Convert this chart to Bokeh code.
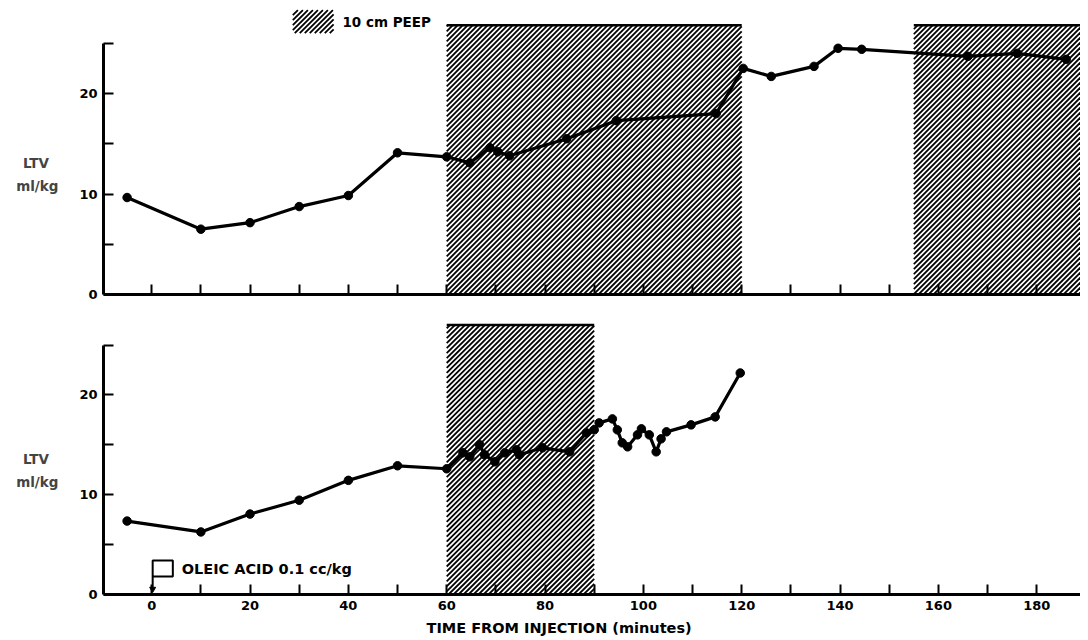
from bokeh.plotting import figure
from bokeh.models import FixedTicker, Range1d, Title
from bokeh.layouts import column
from bokeh.embed import file_html
from bokeh.resources import INLINE
from bokeh.core.properties import value

# ---- data ----
top_t = [-5, 10, 20, 30, 40, 50, 60, 64.7, 68.8, 70.4, 72.8, 84.4, 94.5,
         114.8, 120.3, 126.0, 134.7, 139.6, 144.4, 166, 176, 186]
top_v = [9.65, 6.5, 7.15, 8.75, 9.85, 14.1, 13.7, 13.1, 14.6, 14.2, 13.8,
         15.5, 17.3, 18.0, 22.5, 21.7, 22.7, 24.5, 24.4, 23.7, 24.0, 23.4]

bot_t = [-5, 10, 20, 30, 40, 50, 60, 63.3, 64.7, 66.7, 67.7, 69.8, 71.8,
         74.2, 74.8, 79.5, 85, 88.4, 90, 91, 93.7, 94.7, 95.7, 96.8, 98.8,
         99.6, 101.2, 102.6, 103.6, 104.7, 109.7, 114.6, 119.7]
bot_v = [7.36, 6.27, 8.06, 9.45, 11.44, 12.9, 12.6, 14.2, 13.8, 15.0, 14.0,
         13.3, 14.2, 14.5, 14.0, 14.7, 14.3, 16.2, 16.5, 17.2, 17.6, 16.5,
         15.2, 14.8, 16.0, 16.6, 16.0, 14.3, 15.6, 16.3, 17.0, 17.8, 22.2]

# PEEP (10 cm) periods, minutes
top_peep_start = [60, 155]
top_peep_end = [120, 188.9]
bot_peep_start = [60]
bot_peep_end = [90]

x_major = [0, 20, 40, 60, 80, 100, 120, 140, 160, 180]
x_minor = [10, 30, 50, 70, 90, 110, 130, 150, 170]
y_major = [0, 10, 20]
y_minor = [5, 15, 25]

FONT = "DejaVu Sans"
XMIN, XMAX = -9.8, 188.9
W = 1080
LEFT = 103
FRAME_W = W - LEFT
TOP_FRAME_H = 286
TOP_YMAX = 28.46
BOT_FRAME_H = 274
BOT_YMAX = 27.26
HATCH_PERIOD = 5.0  # px


def style(p, show_xlabels, ylabel):
    p.outline_line_color = None
    p.xgrid.visible = False
    p.ygrid.visible = False
    p.background_fill_color = "white"
    p.border_fill_color = "white"
    for ax in (p.xaxis[0], p.yaxis[0]):
        ax.axis_line_width = 3
        ax.axis_line_color = "black"
        ax.major_tick_in = 10
        ax.major_tick_out = 0
        ax.minor_tick_in = 10
        ax.minor_tick_out = 0
        ax.major_tick_line_width = 2
        ax.minor_tick_line_width = 2
        ax.major_tick_line_color = "black"
        ax.minor_tick_line_color = "black"
        ax.major_label_text_font = FONT
        ax.major_label_text_font_style = "bold"
        ax.major_label_text_font_size = "13px"
        ax.major_label_text_color = "black"
    p.xaxis[0].ticker = FixedTicker(ticks=x_major, minor_ticks=x_minor)
    p.yaxis[0].ticker = FixedTicker(ticks=y_major, minor_ticks=y_minor)
    p.yaxis[0].bounds = (0, 25)
    p.yaxis[0].major_label_standoff = 6
    p.yaxis[0].axis_label = ylabel
    p.yaxis[0].axis_label_orientation = "horizontal"
    p.yaxis[0].axis_label_text_font = FONT
    p.yaxis[0].axis_label_text_font_style = "bold"
    p.yaxis[0].axis_label_text_font_size = "13.5px"
    p.yaxis[0].axis_label_text_line_height = 1.45
    p.yaxis[0].axis_label_text_align = "center"
    p.yaxis[0].axis_label_standoff = 18
    p.xaxis[0].major_label_standoff = 6
    if not show_xlabels:
        p.xaxis[0].major_label_text_alpha = 0


def hatch_lines(L, R, B, T, ymax, frame_h):
    """'/' hatch lines clipped to a data rectangle, spaced HATCH_PERIOD px."""
    sx = FRAME_W / (XMAX - XMIN)
    sy = frame_h / ymax
    u0, u1 = (L - XMIN) * sx, (R - XMIN) * sx
    w0, w1 = B * sy, T * sy
    xs, ys = [], []
    k = int((w0 - u1) // HATCH_PERIOD) - 1
    while k * HATCH_PERIOD <= w1 - u0:
        c = k * HATCH_PERIOD
        a = max(u0, w0 - c)
        b = min(u1, w1 - c)
        if b > a:
            xs.append([a / sx + XMIN, b / sx + XMIN])
            ys.append([(a + c) / sy, (b + c) / sy])
        k += 1
    return xs, ys


def peep(p, starts, ends, top, ymax, frame_h, border=True):
    for s, e in zip(starts, ends):
        xs, ys = hatch_lines(s, e, 0, top, ymax, frame_h)
        p.multi_line(xs, ys, line_color="black", line_width=1.8)
    if border:
        p.segment(x0=starts, x1=ends, y0=[top] * len(starts), y1=[top] * len(starts),
                  line_color="black", line_width=2.5)


def series(p, t, v):
    p.line(t, v, line_color="black", line_width=3.2)
    p.scatter(t, v, size=8.5, fill_color="black", line_color="black")


# ---- top panel ----
p1 = figure(width=W, height=8 + TOP_FRAME_H + 28, output_backend="svg",
            toolbar_location=None,
            x_range=Range1d(XMIN, XMAX), y_range=Range1d(0, TOP_YMAX),
            min_border_left=LEFT, min_border_right=0, min_border_top=8,
            min_border_bottom=28)
style(p1, False, "\n\nLTV  \nml/kg")
peep(p1, top_peep_start, top_peep_end, 26.8, TOP_YMAX, TOP_FRAME_H)
series(p1, top_t, top_v)
# legend for PEEP
sw_x, sw_y = hatch_lines(28.7, 37.0, 26.0, 28.3, TOP_YMAX, TOP_FRAME_H)
p1.multi_line(sw_x, sw_y, line_color="black", line_width=1.8)
p1.text(x=[38.8], y=[27.15], text=["10 cm PEEP"], text_font=value(FONT),
        text_font_style="bold", text_font_size="13.5px", text_baseline="middle",
        text_color="black")

# ---- bottom panel ----
p2 = figure(width=W, height=BOT_FRAME_H + 44, output_backend="svg",
            toolbar_location=None,
            x_range=Range1d(XMIN, XMAX), y_range=Range1d(0, BOT_YMAX),
            min_border_left=LEFT, min_border_right=0, min_border_top=0,
            min_border_bottom=44)
style(p2, True, "\nLTV  \nml/kg")
peep(p2, bot_peep_start, bot_peep_end, 27.0, BOT_YMAX, BOT_FRAME_H)
series(p2, bot_t, bot_v)
# oleic acid legend + injection marker
p2.quad(left=[0.2], right=[4.3], bottom=[1.8], top=[3.4], fill_color="white",
        line_color="black", line_width=2)
p2.text(x=[6.1], y=[2.6], text=["OLEIC ACID 0.1 cc/kg"], text_font=value(FONT),
        text_font_style="bold", text_font_size="14.5px", text_baseline="middle",
        text_color="black")
p2.segment(x0=[0.2], x1=[0.2], y0=[1.8], y1=[0.5], line_color="black", line_width=2)
p2.scatter(x=[0.2], y=[0.55], marker="inverted_triangle", size=6,
           fill_color="black", line_color="black")

t = Title(text="TIME FROM INJECTION  (minutes)", align="left", offset=323,
          text_font=FONT, text_font_style="bold", text_font_size="14.5px",
          standoff=10, text_color="black")
p2.add_layout(t, "below")

layout = column(p1, p2, spacing=0)
open("out.html", "w").write(file_html(layout, INLINE))
